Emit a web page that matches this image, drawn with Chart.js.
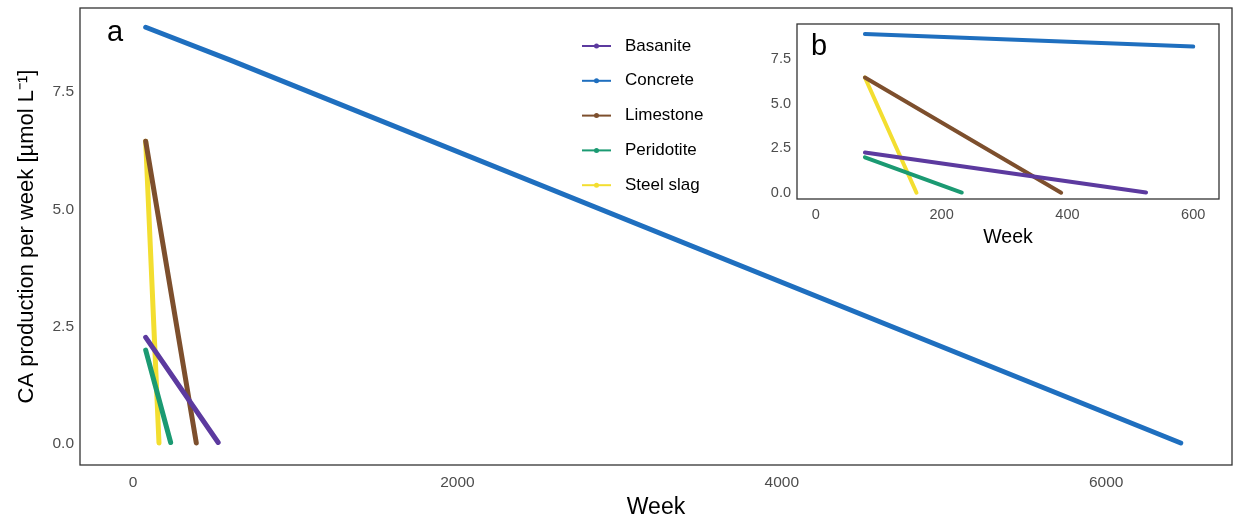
<!DOCTYPE html>
<html>
<head>
<meta charset="utf-8">
<script src="https://cdn.jsdelivr.net/npm/chart.js@4"></script>
<style>
  body { margin: 0; background: #fff; }
  #wrap { position: relative; width: 1236px; height: 521px; }
  #main { position: absolute; left: 0; top: 0; }
  #inset { position: absolute; left: 760px; top: 14px; }
</style>
</head>
<body>
<div id="wrap">
  <canvas id="main" width="1236" height="521"></canvas>
  <canvas id="inset" width="470" height="236"></canvas>
</div>
<script>
// data: [week, CA production]
const seriesNames = ["Basanite", "Concrete", "Limestone", "Peridotite", "Steel slag"];
const seriesColors = ["#5c3a9f", "#1f6fbf", "#7d4f2d", "#1b9a72", "#f3de30"];
const basanite = [[78, 2.27], [525, 0.03]];
const concrete = [[78, 8.88], [600, 8.18], [6460, 0.02]];
const limestone = [[78, 6.45], [390, 0.02]];
const peridotite = [[78, 2.0], [232, 0.03]];
const steelSlag = [[78, 6.45], [160, 0.02]];
const allSeries = [basanite, concrete, limestone, peridotite, steelSlag];

const mainXTicks = [0, 2000, 4000, 6000];
const insetXTicks = [0, 200, 400, 600];
const yTicks = [0, 2.5, 5, 7.5];

const FONT = "'Liberation Sans', Arial, sans-serif";
Chart.defaults.font.family = FONT;
Chart.defaults.animation = false;

function makeDatasets(maxWeek, width) {
  return allSeries.map((s, i) => ({
    label: seriesNames[i],
    data: s.filter(p => p[0] <= maxWeek).map(p => ({ x: p[0], y: p[1] })),
    borderColor: seriesColors[i],
    backgroundColor: seriesColors[i],
    borderWidth: width,
    borderCapStyle: "round",
    showLine: true,
    pointRadius: 0,
    tension: 0
  }));
}

// frame around plot panel + panel letter
function framePlugin(letter, lx, ly, size) {
  return {
    id: "frame",
    afterDraw(chart) {
      const { ctx, chartArea: a } = chart;
      ctx.save();
      ctx.strokeStyle = "#333";
      ctx.lineWidth = 1.3;
      ctx.strokeRect(a.left, a.top, a.right - a.left, a.bottom - a.top);
      ctx.fillStyle = "#000";
      ctx.font = size + "px " + FONT;
      ctx.textBaseline = "middle";
      ctx.fillText(letter, lx, ly);
      ctx.restore();
    }
  };
}

const legendPlugin = {
  id: "insideLegend",
  afterDraw(chart) {
    const ctx = chart.ctx;
    ctx.save();
    chart.data.datasets.forEach((ds, i) => {
      const y = 46 + i * 34.8;
      ctx.strokeStyle = ds.borderColor;
      ctx.lineWidth = 2;
      ctx.beginPath();
      ctx.moveTo(582, y);
      ctx.lineTo(611, y);
      ctx.stroke();
      ctx.fillStyle = ds.borderColor;
      ctx.beginPath();
      ctx.arc(596.5, y, 2.5, 0, Math.PI * 2);
      ctx.fill();
      ctx.fillStyle = "#000";
      ctx.font = "17px " + FONT;
      ctx.textBaseline = "middle";
      ctx.fillText(ds.label, 625, y);
    });
    ctx.restore();
  }
};

function axes(xmin, xmax, xt, ymin, ymax, opts) {
  return {
    x: {
      type: "linear", min: xmin, max: xmax,
      grid: { display: false, drawTicks: false },
      border: { display: false },
      afterBuildTicks: ax => { ax.ticks = xt.map(v => ({ value: v })); },
      afterFit: ax => { ax.height = opts.xh; ax.paddingLeft = 0; ax.paddingRight = 0; },
      ticks: { color: "#4d4d4d", font: { size: opts.tick }, padding: opts.xpad, maxRotation: 0, callback: v => String(v) },
      title: { display: true, text: "Week", color: "#000", font: { size: opts.title }, padding: { top: 0, bottom: opts.xtpad } }
    },
    y: {
      type: "linear", min: ymin, max: ymax,
      grid: { display: false, drawTicks: false },
      border: { display: false },
      afterBuildTicks: ax => { ax.ticks = yTicks.map(v => ({ value: v })); },
      afterFit: ax => { ax.width = opts.yw; ax.paddingTop = 0; ax.paddingBottom = 0; },
      ticks: { color: "#4d4d4d", font: { size: opts.tick }, padding: 6, callback: v => v.toFixed(1) },
      title: { display: opts.ytitle, text: "CA production per week [\u00b5mol L\u207b\u00b9]", color: "#000", font: { size: 22 }, padding: { top: 14, bottom: 0 } }
    }
  };
}

new Chart(document.getElementById("main"), {
  type: "scatter",
  data: { datasets: makeDatasets(Infinity, 5) },
  options: {
    responsive: false,
    layout: { padding: { left: 0, top: 8, right: 4, bottom: 0 } },
    plugins: { legend: { display: false }, tooltip: { enabled: false } },
    scales: axes(-327, 6776, mainXTicks, -0.45, 9.29,
      { xh: 56, yw: 80, tick: 15.5, title: 23, xpad: 8, xtpad: 0, ytitle: true })
  },
  plugins: [framePlugin("a", 107, 33, 29), legendPlugin]
});

new Chart(document.getElementById("inset"), {
  type: "scatter",
  data: { datasets: makeDatasets(600, 4) },
  options: {
    responsive: false,
    layout: { padding: { left: 0, top: 10, right: 11, bottom: 0 } },
    plugins: { legend: { display: false }, tooltip: { enabled: false } },
    scales: axes(-30, 641, insetXTicks, -0.33, 9.44,
      { xh: 51, yw: 37, tick: 14.5, title: 19.5, xpad: 7, xtpad: 1, ytitle: false })
  },
  plugins: [framePlugin("b", 51, 33, 29)]
});
</script>
</body>
</html>
